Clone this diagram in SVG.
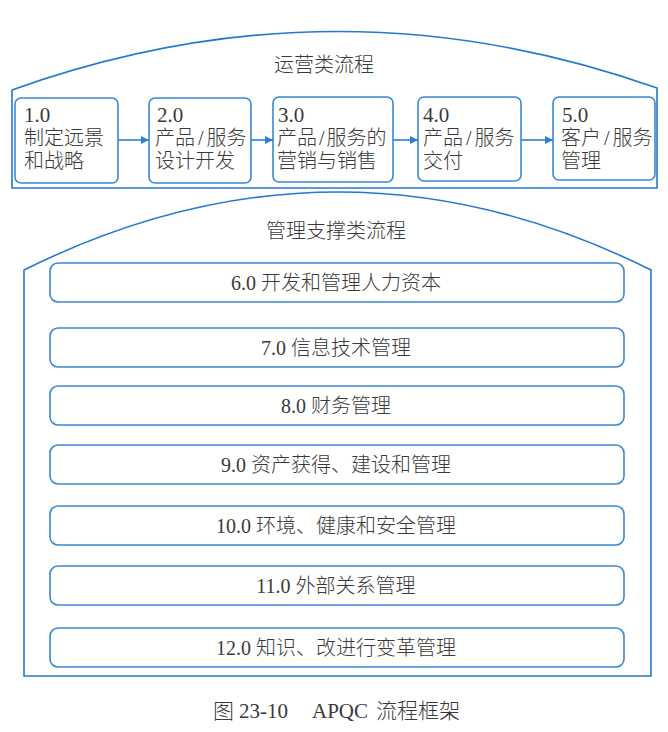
<svg xmlns="http://www.w3.org/2000/svg" width="668" height="732" viewBox="0 0 668 732">
<defs>
<style>
.frame{fill:none;stroke:#2479d0;stroke-width:1.6}
.box{fill:#fff;stroke:#3a88d2;stroke-width:1.6}
.t{font-family:"Liberation Serif","Noto Sans CJK SC",serif;font-size:20px;font-weight:300;fill:#3a3a3a}
.n{font-size:21px}
.c{text-anchor:middle}
.conn{stroke:#2a80d4;stroke-width:1.6;fill:none}
</style>
<marker id="ah" viewBox="0 0 10 10" refX="10" refY="5" markerWidth="9" markerHeight="8" markerUnits="userSpaceOnUse" orient="auto">
<path d="M0,0 L10,5 L0,10 Z" fill="#2a80d4"/>
</marker>
</defs>
<rect width="668" height="732" fill="#fff"/>

<g id="ops-frame">
<path class="frame" d="M12,188 L12,90 Q335,-26 657,88 L657,188 Z"/>
<text class="t c" x="324" y="72">运营类流程</text>
</g>

<g id="support-frame">
<path class="frame" d="M24,676 L24,270 Q338,114 651,270 L651,676 Z"/>
<text class="t c" x="336" y="238">管理支撑类流程</text>
</g>

<g id="n1">
<rect class="box" x="15" y="98" width="103" height="85" rx="6"/>
<text class="t n" x="24" y="122">1.0</text>
<text class="t" x="24" y="145">制定远景</text>
<text class="t" x="24" y="168">和战略</text>
</g>
<g id="n2">
<rect class="box" x="149" y="98" width="102" height="85" rx="6"/>
<text class="t n" x="157" y="122">2.0</text>
<text class="t" x="155" y="145">产品<tspan dx="3">/</tspan><tspan dx="3">服务</tspan></text>
<text class="t" x="155" y="168">设计开发</text>
</g>
<g id="n3">
<rect class="box" x="273" y="97" width="120" height="85" rx="6"/>
<text class="t n" x="278" y="122">3.0</text>
<text class="t" x="277" y="145">产品<tspan dx="2">/</tspan><tspan dx="2">服务的</tspan></text>
<text class="t" x="277" y="168">营销与销售</text>
</g>
<g id="n4">
<rect class="box" x="418" y="97" width="103" height="84" rx="6"/>
<text class="t n" x="423" y="122">4.0</text>
<text class="t" x="423" y="145">产品<tspan dx="3">/</tspan><tspan dx="3">服务</tspan></text>
<text class="t" x="423" y="168">交付</text>
</g>
<g id="n5">
<rect class="box" x="553" y="97" width="102" height="83" rx="6"/>
<text class="t n" x="562" y="122">5.0</text>
<text class="t" x="561" y="145">客户<tspan dx="3">/</tspan><tspan dx="3">服务</tspan></text>
<text class="t" x="561" y="168">管理</text>
</g>

<g id="connectors">
<line class="conn" x1="118" y1="140" x2="149" y2="140" marker-end="url(#ah)"/>
<line class="conn" x1="251" y1="140" x2="273" y2="140" marker-end="url(#ah)"/>
<line class="conn" x1="393" y1="140" x2="418" y2="140" marker-end="url(#ah)"/>
<line class="conn" x1="521" y1="140" x2="553" y2="140" marker-end="url(#ah)"/>
</g>

<g id="n6">
<rect class="box" x="50" y="263" width="574" height="39" rx="8"/>
<text class="t c" x="336" y="290">6.0 开发和管理人力资本</text>
</g>
<g id="n7">
<rect class="box" x="50" y="328" width="574" height="39" rx="8"/>
<text class="t c" x="336" y="355">7.0 信息技术管理</text>
</g>
<g id="n8">
<rect class="box" x="50" y="386" width="574" height="39" rx="8"/>
<text class="t c" x="336" y="413">8.0 财务管理</text>
</g>
<g id="n9">
<rect class="box" x="50" y="445" width="574" height="39" rx="8"/>
<text class="t c" x="336" y="472">9.0 资产获得、建设和管理</text>
</g>
<g id="n10">
<rect class="box" x="50" y="506" width="574" height="39" rx="8"/>
<text class="t c" x="336" y="533">10.0 环境、健康和安全管理</text>
</g>
<g id="n11">
<rect class="box" x="50" y="566" width="574" height="39" rx="8"/>
<text class="t c" x="336" y="593">11.0 外部关系管理</text>
</g>
<g id="n12">
<rect class="box" x="50" y="628" width="574" height="39" rx="8"/>
<text class="t c" x="336" y="655">12.0 知识、改进行变革管理</text>
</g>

<g id="caption">
<text class="t" style="font-size:21px"><tspan x="213" y="718">图</tspan><tspan x="239" y="718">23-10</tspan><tspan x="312" y="718">APQC</tspan><tspan x="376" y="718">流程框架</tspan></text>
</g>
</svg>
